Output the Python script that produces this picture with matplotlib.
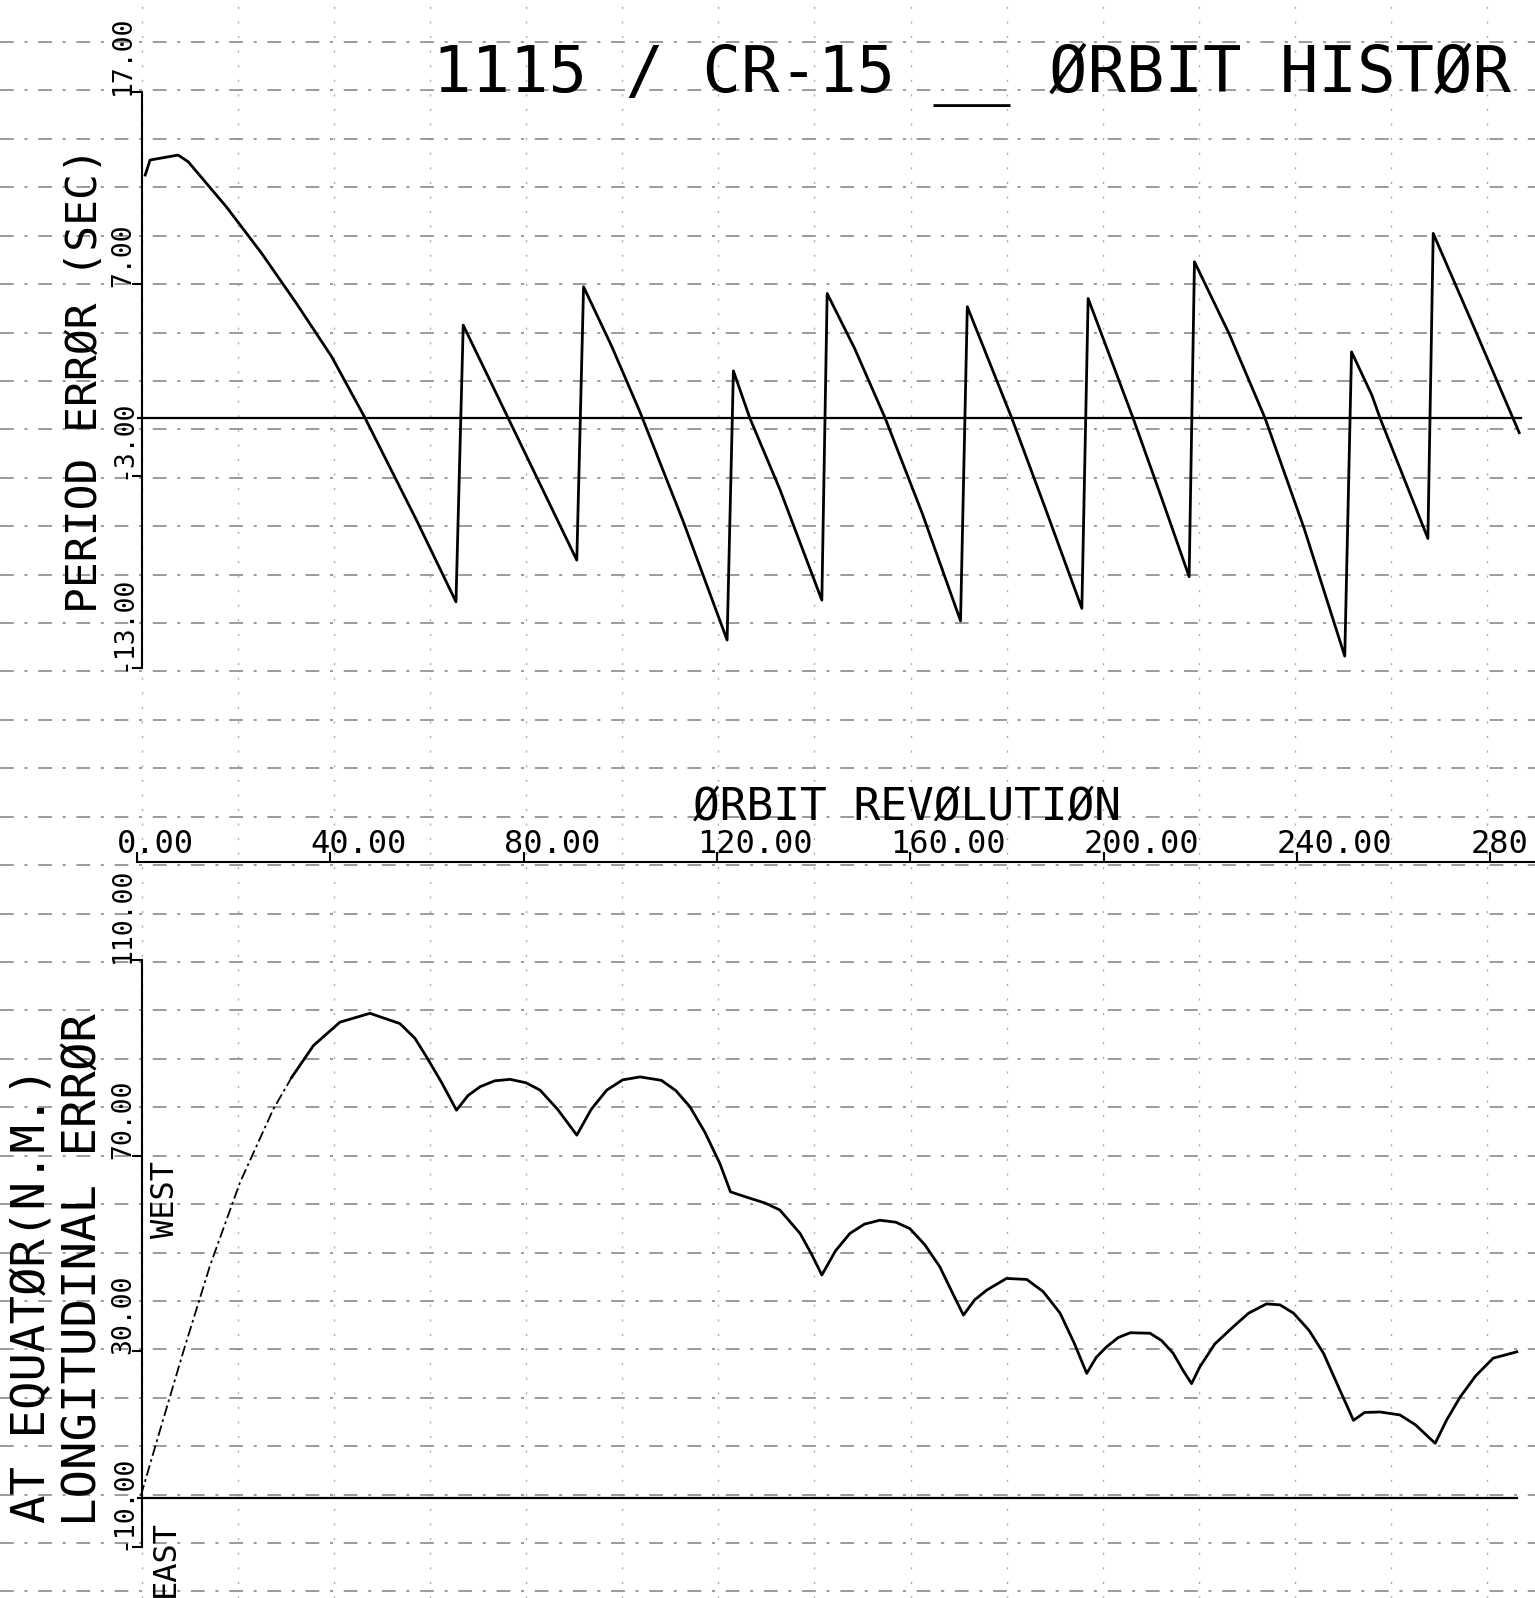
import numpy as np
import matplotlib
matplotlib.use("Agg")
import matplotlib.pyplot as plt
from matplotlib import transforms as mtransforms

# ---------------- data ----------------
rev_ticks = [0, 40, 80, 120, 160, 200, 240, 280]
rev_ticklabels = ["0.00", "40.00", "80.00", "120.00", "160.00", "200.00", "240.00", "280"]

per_ticks = [-13, -3, 7, 17]
per_ticklabels = ["-13.00", "-3.00", "7.00", "17.00"]

lon_ticks = [-10, 30, 70, 110]
lon_ticklabels = ["-10.00", "30.00", "70.00", "110.00"]

# period error (sec) vs orbit revolution
rev_p = [1.7, 2.7, 8.5, 10.6, 18.5, 25.8, 33.0, 40.3, 44.8, 47.2, 50.3, 57.9, 66.0,
         67.5, 76.8, 91.0,
         92.4, 98.2, 104.1, 113.0, 122.1,
         123.4, 126.8, 133.0, 141.7,
         142.8, 148.5, 154.8, 162.5, 170.4,
         171.8, 181.0, 188.0, 195.5,
         196.8, 206.1, 212.0, 217.7,
         218.8, 226.0, 233.4, 241.5, 249.9,
         251.3, 255.5, 257.2, 267.1,
         268.2, 276.0, 284.7, 286.0]
period_err = [12.66, 13.44, 13.7, 13.35, 11.0, 8.58, 5.97, 3.19, 1.11, 0.0, -1.55, -5.35, -9.57,
              4.84, 0.0, -7.4,
              6.84, 3.75, 0.3, -5.37, -11.56,
              2.46, 0.0, -3.7, -9.48,
              6.49, 3.62, 0.0, -4.98, -10.56,
              5.8, 0.0, -4.74, -9.91,
              6.23, 0.0, -4.16, -8.26,
              8.14, 4.38, 0.0, -5.75, -12.4,
              3.45, 1.2, 0.0, -6.27,
              9.62, 5.1, 0.0, -0.76]

# longitudinal error at equator (n.m.) vs orbit revolution
rev_l = [0.8, 4.5, 9.6, 15.1, 21.3, 28.2, 32.0, 36.5, 42.0, 48.2, 54.4, 57.5, 59.9, 63.0, 66.1,
         68.5, 71.0, 74.0, 77.2, 80.5, 83.4, 87.0, 91.0,
         94.0, 97.2, 100.5, 104.1, 108.5, 111.5, 114.4, 117.5, 120.6, 122.8,
         126.8, 130.0, 133.0, 137.2, 139.5, 141.7,
         144.5, 147.5, 150.5, 153.7, 157.0, 159.9, 163.0, 166.1, 168.7, 171.0,
         173.3, 175.8, 179.9, 184.1, 187.5, 191.0, 194.0, 196.5,
         198.5, 200.6, 203.0, 205.5, 209.6, 212.0, 214.4, 216.5, 218.2,
         219.9, 223.0, 226.8, 230.0, 233.7, 236.5, 239.3, 242.5, 245.5, 248.7, 251.7,
         254.0, 257.2, 261.3, 264.5, 268.6,
         271.0, 273.8, 277.0, 280.6, 285.5]
lon_err = [0.5, 13.0, 30.0, 47.5, 64.5, 79.5, 86.0, 92.5, 97.3, 99.1, 97.0, 94.0, 90.2, 85.0, 79.3,
           82.3, 84.1, 85.3, 85.6, 84.9, 83.4, 79.5, 74.2,
           79.5, 83.4, 85.5, 86.1, 85.4, 83.3, 80.0, 74.8, 68.4, 62.6,
           61.3, 60.3, 58.9, 54.1, 50.0, 45.6,
           50.5, 54.1, 56.0, 56.8, 56.4, 55.1, 51.8, 47.3, 42.0, 37.4,
           40.5, 42.5, 44.9, 44.7, 42.2, 37.8, 31.5, 25.5,
           28.8, 30.9, 32.8, 33.8, 33.7, 32.2, 29.6, 26.0, 23.4,
           26.8, 31.5, 35.0, 37.8, 39.7, 39.5, 37.8, 34.3, 29.6, 22.5, 15.9,
           17.5, 17.6, 17.0, 15.0, 11.2,
           16.0, 20.7, 25.0, 28.6, 29.9]
dashed_until = 6   # index where the faint (dash-dot) rising part ends

# ---------------- layout helpers ----------------
W, H = 1535, 1598
plt.rcParams["font.family"] = ["DejaVu Sans Mono", "DejaVu Sans"]

fig = plt.figure(figsize=(W / 100, H / 100), dpi=100)
fig.patch.set_facecolor("white")


def rect(l, t, r, b):
    return [l / W, 1 - b / H, (r - l) / W, (b - t) / H]


X0 = 137.0
PPU = 4.833
XMAX = (W - X0) / PPU

# background graph-paper grid (scan texture)
bg = fig.add_axes([0, 0, 1, 1], zorder=0)
bg.set_xlim(0, W)
bg.set_ylim(H, 0)
bg.set_xticks(np.arange(430 - 96.1 * 3, W, 96.1))
bg.set_yticks(np.arange(42, H, 48.42))
bg.grid(axis="y", color="0.5", lw=1.1, linestyle=(0, (9, 7, 2, 7)))
bg.grid(axis="x", color="0.68", lw=1.0, linestyle=(0, (1.5, 9)))
bg.tick_params(length=0, labelbottom=False, labelleft=False)
for s in bg.spines.values():
    s.set_visible(False)
bg.set_facecolor("white")

LW_AX = 1.5
YTICK_FS = 19
XTICK_FS = 23
YTL_X = 130  # baseline (px) of the rotated y tick labels

# ---------------- top panel: period error ----------------
ax1 = fig.add_axes(rect(X0, 91.7, W, 667.7), zorder=2, facecolor="none")
ax1.set_xlim(0, XMAX)
ax1.set_ylim(-13, 17)
for k, s in ax1.spines.items():
    s.set_visible(k == "left")
ax1.spines["left"].set_linewidth(LW_AX)
ax1.spines["left"].set_position(("data", 1.0))
ax1.set_xticks([])
ax1.set_yticks(per_ticks)
ax1.tick_params(axis="y", direction="out", length=7, width=LW_AX, labelleft=False)
ax1.axhline(0, xmin=0, xmax=(1521 - X0) / (W - X0), color="k", lw=1.6)
ax1.plot(rev_p, period_err, color="k", lw=2.0)

tr1 = mtransforms.blended_transform_factory(fig.transFigure, ax1.transData) + \
    mtransforms.ScaledTranslation(0, -0.03, fig.dpi_scale_trans)
for v, lab in zip(per_ticks, per_ticklabels):
    ax1.text(YTL_X / W, v, lab, transform=tr1, rotation=90, rotation_mode="anchor",
             ha="left", va="baseline", fontsize=YTICK_FS, clip_on=False)

ax1.set_ylabel("PERIOD ERRØR (SEC)", fontsize=31, va="baseline")
ax1.yaxis.set_label_coords((97 - X0) / (W - X0), (667.7 - 380) / 576.0)

# ---------------- middle: orbit revolution axis ----------------
axx = fig.add_axes(rect(X0, 859, W, 862), zorder=2, facecolor="none")
axx.set_xlim(0, XMAX)
axx.set_yticks([])
for k, s in axx.spines.items():
    s.set_visible(k == "bottom")
axx.spines["bottom"].set_linewidth(LW_AX)
axx.set_xticks(rev_ticks)
axx.tick_params(axis="x", direction="in", length=7, width=LW_AX, labelbottom=False)
trx = mtransforms.blended_transform_factory(axx.transData, fig.transFigure) + \
    mtransforms.ScaledTranslation(-0.20, 0, fig.dpi_scale_trans)
for v, lab in zip(rev_ticks, rev_ticklabels):
    axx.text(v, 1 - 853 / H, lab, transform=trx, ha="left", va="baseline",
             fontsize=XTICK_FS, clip_on=False)
fig.text(693 / W, 1 - 820 / H, "ØRBIT REVØLUTIØN", ha="left", va="baseline", fontsize=32)

# ---------------- bottom panel: longitudinal error ----------------
ax2 = fig.add_axes(rect(X0, 960, W, 1547), zorder=2, facecolor="none")
ax2.set_xlim(0, XMAX)
ax2.set_ylim(-10, 110)
for k, s in ax2.spines.items():
    s.set_visible(k == "left")
ax2.spines["left"].set_linewidth(LW_AX)
ax2.spines["left"].set_position(("data", 1.0))
ax2.set_xticks([])
ax2.set_yticks(lon_ticks)
ax2.tick_params(axis="y", direction="out", length=7, width=LW_AX, labelleft=False)
ax2.axhline(0, xmin=0, xmax=(1517 - X0) / (W - X0), color="k", lw=1.6)
ax2.plot(rev_l[:dashed_until + 1], lon_err[:dashed_until + 1], color="k", lw=1.3,
         linestyle=(0, (6, 2, 1.5, 2)))
ax2.plot(rev_l[dashed_until:], lon_err[dashed_until:], color="k", lw=2.0)

tr2 = mtransforms.blended_transform_factory(fig.transFigure, ax2.transData) + \
    mtransforms.ScaledTranslation(0, -0.03, fig.dpi_scale_trans)
for v, lab in zip(lon_ticks, lon_ticklabels):
    ax2.text(YTL_X / W, v, lab, transform=tr2, rotation=90, rotation_mode="anchor",
             ha="left", va="baseline", fontsize=YTICK_FS, clip_on=False)

ax2.set_ylabel("LONGITUDINAL ERRØR", fontsize=34, va="baseline")
ax2.yaxis.set_label_coords((96 - X0) / (W - X0), (1547 - 1269) / 587.0)
fig.text(45 / W, 1 - 1295 / H, "AT EQUATØR(N.M.)", rotation=90, rotation_mode="anchor",
         ha="center", va="baseline", fontsize=34)

fig.text(174 / W, 1 - 1238 / H, "WEST", rotation=90, rotation_mode="anchor",
         ha="left", va="baseline", fontsize=XTICK_FS)
fig.text(174 / W, 1 - 1597 / H, "EAST", rotation=90, rotation_mode="anchor",
         ha="left", va="baseline", fontsize=XTICK_FS)

# ---------------- title ----------------
fig.suptitle("1115 / CR-15 __ ØRBIT HISTØR", x=433 / W, y=1 - 92 / H,
             ha="left", va="baseline", fontsize=46)

fig.savefig("out.png", dpi=100, facecolor="white")
